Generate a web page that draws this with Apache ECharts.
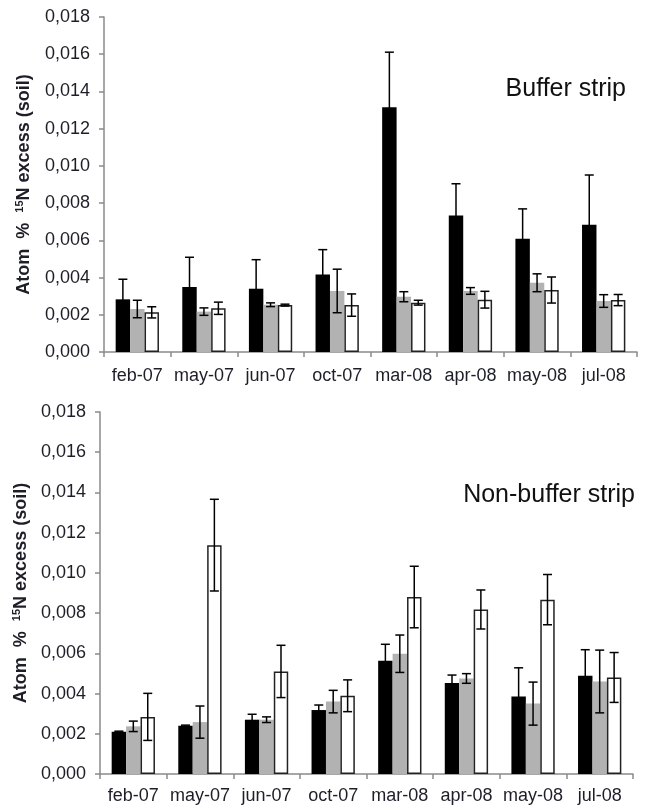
<!DOCTYPE html>
<html>
<head>
<meta charset="utf-8">
<script src="https://cdn.jsdelivr.net/npm/echarts@6/dist/echarts.min.js"></script>
<style>
html,body{margin:0;padding:0;background:#fff;}
#c{width:646px;height:808px;}
</style>
</head>
<body>
<div id="c"></div>
<script>
const categories = ['feb-07','may-07','jun-07','oct-07','mar-08','apr-08','may-08','jul-08'];
const yTicks = [0,0.002,0.004,0.006,0.008,0.010,0.012,0.014,0.016,0.018];

// Buffer strip (top panel)
const bufBlack    = [0.00283,0.00349,0.00340,0.00417,0.01315,0.00734,0.00609,0.00684];
const bufBlackErr = [0.00108,0.00160,0.00156,0.00133,0.00296,0.00170,0.00160,0.00267];
const bufGray     = [0.00231,0.00217,0.00254,0.00328,0.00297,0.00328,0.00372,0.00274];
const bufGrayErr  = [0.00047,0.00020,0.00010,0.00117,0.00027,0.00018,0.00048,0.00034];
const bufWhite    = [0.00213,0.00235,0.00252,0.00252,0.00265,0.00281,0.00333,0.00279];
const bufWhiteErr = [0.00030,0.00033,0.00005,0.00060,0.00013,0.00045,0.00070,0.00030];

// Non-buffer strip (bottom panel)
const nonBlack    = [0.00210,0.00240,0.00270,0.00318,0.00563,0.00453,0.00385,0.00488];
const nonBlackErr = [0.00003,0.00003,0.00027,0.00025,0.00082,0.00039,0.00143,0.00130];
const nonGray     = [0.00237,0.00258,0.00270,0.00360,0.00598,0.00475,0.00350,0.00460];
const nonGrayErr  = [0.00026,0.00080,0.00014,0.00056,0.00093,0.00024,0.00107,0.00156];
const nonWhite    = [0.00284,0.01138,0.00510,0.00389,0.00880,0.00818,0.00867,0.00480];
const nonWhiteErr = [0.00117,0.00228,0.00130,0.00079,0.00153,0.00097,0.00125,0.00124];

const FONT = '"Liberation Sans", Arial, sans-serif';
const TXT = '#1e1e28';
const AXC = '#8a8a8a';
const CAT_GAP = 0.35;

function fmt(v){ return v.toFixed(3).replace('.', ','); }

function makeY(idx, gap){
  return {
    gridIndex: idx, type: 'value', min: yTicks[0], max: yTicks[yTicks.length-1], interval: yTicks[1]-yTicks[0],
    splitLine: {show:false},
    axisLine: {show:true, lineStyle:{color:AXC, width:1.5}},
    axisTick: {show:true, length:5, lineStyle:{color:AXC, width:1.5}},
    axisLabel: {fontFamily:FONT, fontSize:18, color:TXT, margin:14, formatter: fmt},
    name: '{b|Atom  %  }{s|15}{b|N excess (soil)}',
    nameLocation: 'middle', nameRotate: 90, nameGap: gap,
    nameTextStyle: {
      rich: {
        b: {fontFamily:FONT, fontSize:18, fontWeight:'bold', color:TXT, lineHeight:20},
        s: {fontFamily:FONT, fontSize:11, fontWeight:'bold', color:TXT, lineHeight:20, verticalAlign:'top'}
      }
    }
  };
}
function makeX(idx, margin){
  return {
    gridIndex: idx, type:'category', data: categories,
    axisLine: {show:true, lineStyle:{color:AXC, width:1.5}},
    axisTick: {show:true, length:5, lineStyle:{color:AXC, width:1.5}},
    axisLabel: {fontFamily:FONT, fontSize:18, color:TXT, margin: margin, interval:0}
  };
}
function bar(idx, data, color, border){
  return {
    type:'bar', xAxisIndex: idx, yAxisIndex: idx, data: data,
    barCategoryGap: (CAT_GAP*100)+'%', barGap: '0%',
    itemStyle: border ? {color: color, borderColor:'#222', borderWidth:1.5} : {color: color},
    emphasis: {disabled:true}, z: 2
  };
}
function errSeries(idx, vals, errs, pos){
  return {
    type:'custom', xAxisIndex: idx, yAxisIndex: idx, z: 5,
    data: vals.map((v,i)=>[i, v, errs[i]]),
    encode: {x:0, y:1},
    renderItem: function(params, api){
      const i = api.value(0), v = api.value(1), e = api.value(2);
      const band = api.size([1,0])[0];
      const bw = band*(1-CAT_GAP)/3;
      const c = api.coord([i, v]);
      const x = c[0] + (pos-1)*bw;
      const yt = api.coord([i, v+e])[1];
      const yb = api.coord([i, v-e])[1];
      const hw = 4.5;
      const st = {stroke:'#000', lineWidth:1.5};
      return {type:'group', children:[
        {type:'line', shape:{x1:x, y1:yt, x2:x, y2:yb}, style:st},
        {type:'line', shape:{x1:x-hw, y1:yt, x2:x+hw, y2:yt}, style:st},
        {type:'line', shape:{x1:x-hw, y1:yb, x2:x+hw, y2:yb}, style:st}
      ]};
    }
  };
}

const chart = echarts.init(document.getElementById('c'));
chart.setOption({
  animation:false,
  backgroundColor:'#fff',
  grid: [
    {left:104, top:17, right:9, height:335},
    {left:100, top:412, right:13, height:362}
  ],
  xAxis: [makeX(0,15), makeX(1,13)],
  yAxis: [makeY(0,70), makeY(1,66)],
  graphic: [
    {type:'text', right:20, top:77, style:{text:'Buffer strip', font:'25px '+FONT, fill:'#111'}},
    {type:'text', right:11, top:483, style:{text:'Non-buffer strip', font:'25px '+FONT, fill:'#111'}}
  ],
  series: [
    bar(0, bufBlack, '#000', false),
    bar(0, bufGray, '#b2b2b2', false),
    bar(0, bufWhite, '#fff', true),
    errSeries(0, bufBlack, bufBlackErr, 0),
    errSeries(0, bufGray, bufGrayErr, 1),
    errSeries(0, bufWhite, bufWhiteErr, 2),
    bar(1, nonBlack, '#000', false),
    bar(1, nonGray, '#b2b2b2', false),
    bar(1, nonWhite, '#fff', true),
    errSeries(1, nonBlack, nonBlackErr, 0),
    errSeries(1, nonGray, nonGrayErr, 1),
    errSeries(1, nonWhite, nonWhiteErr, 2)
  ]
});
</script>
</body>
</html>
